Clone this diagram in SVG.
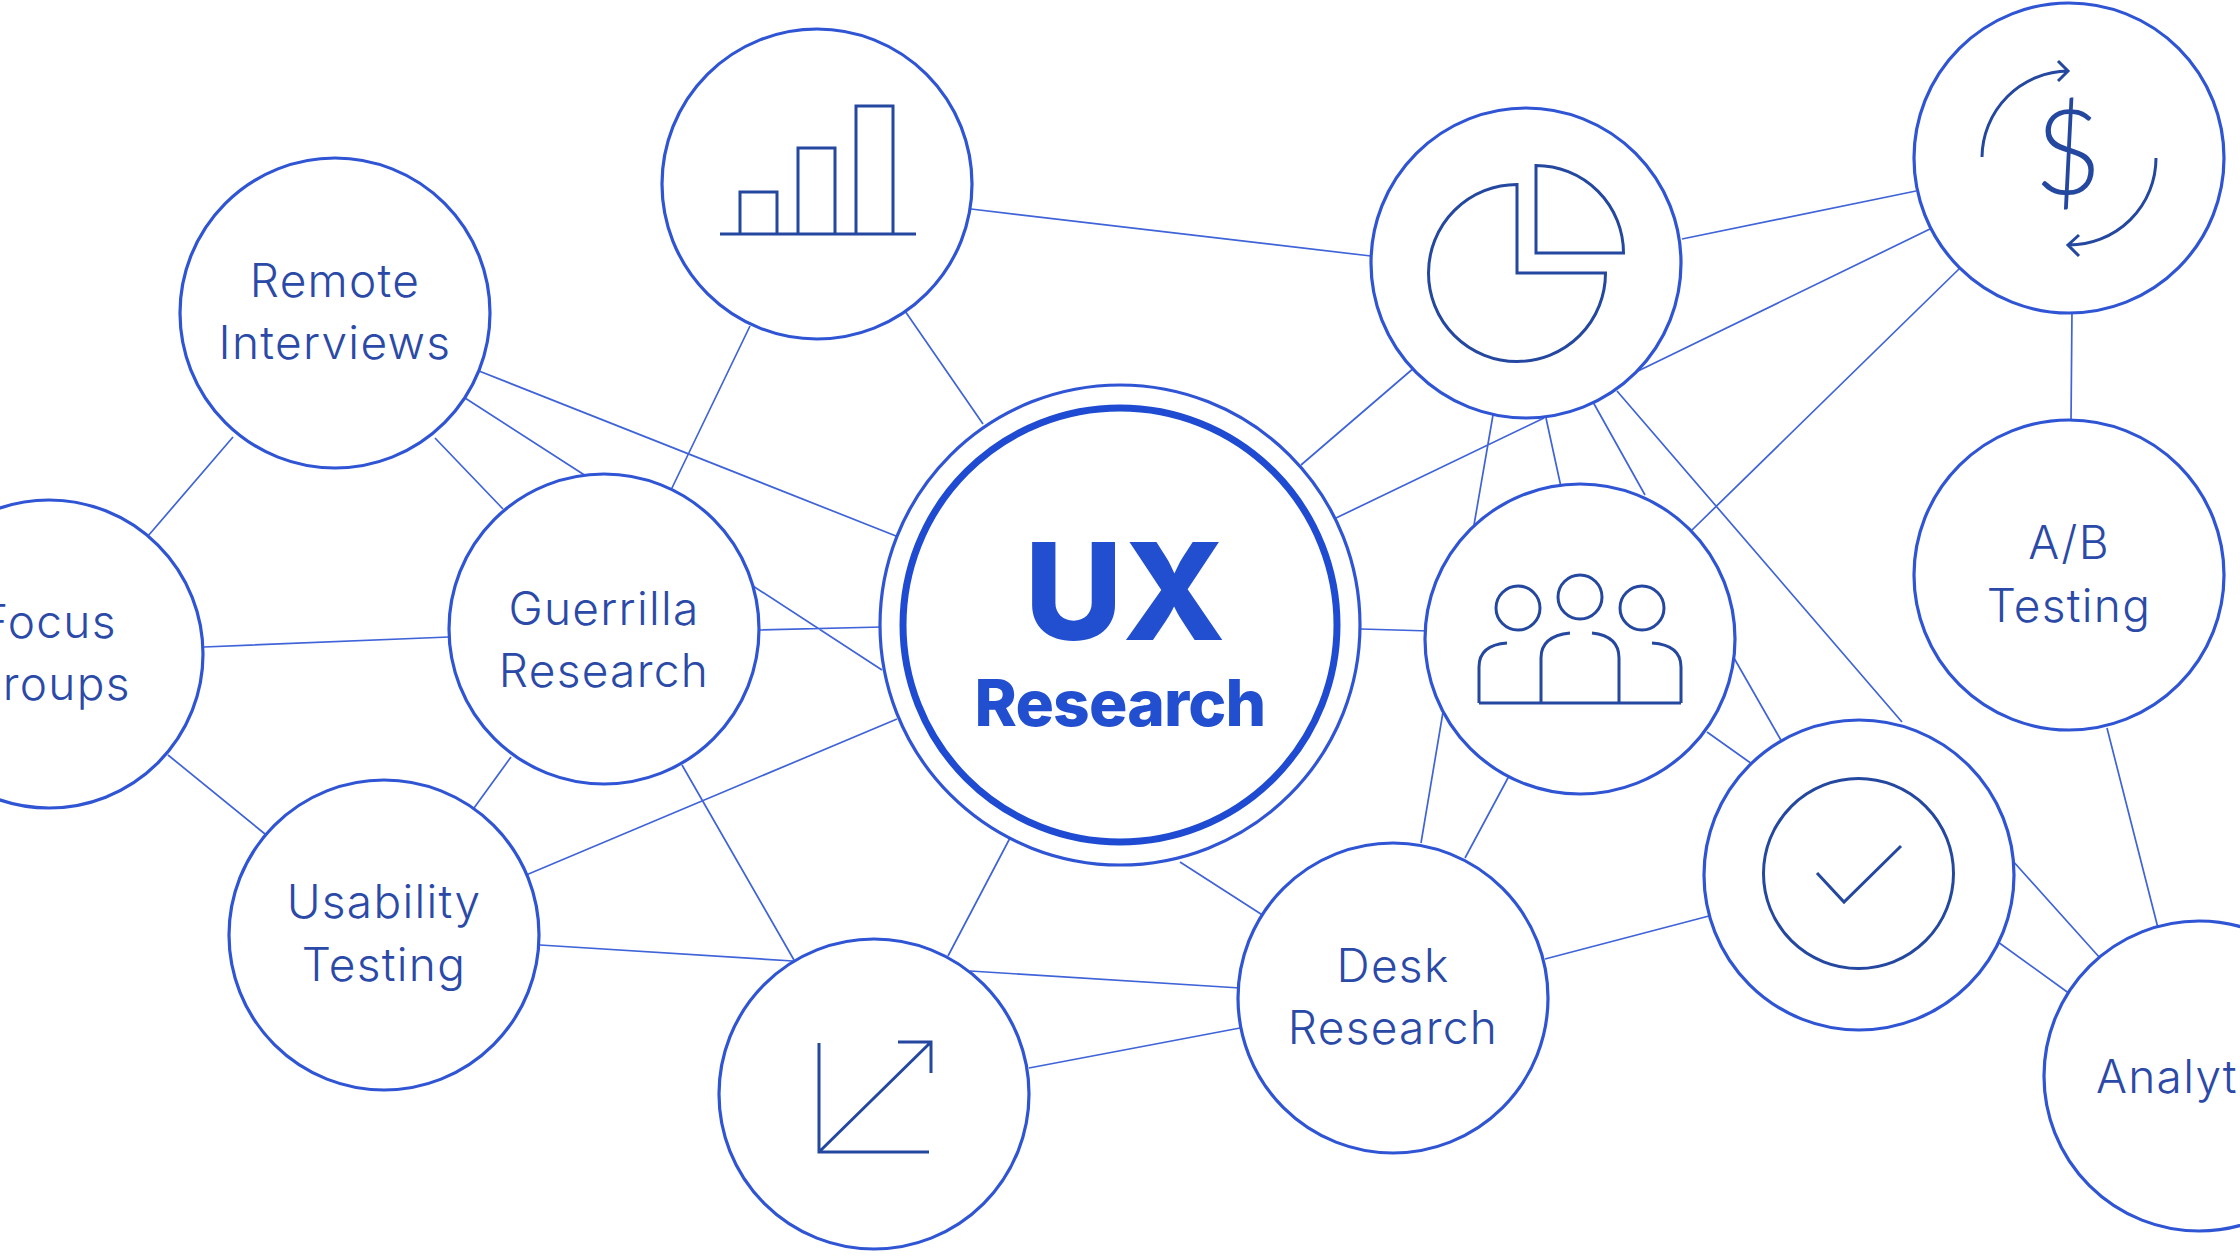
<svg xmlns="http://www.w3.org/2000/svg" width="2240" height="1260" viewBox="0 0 2240 1260">
<style>
.c{fill:#fff;stroke:#2f55d4;stroke-width:3.2}
.l{stroke:#3f63d8;stroke-width:1.7;fill:none}
.i{stroke:#24479f;stroke-width:3;fill:none}
.t{font-family:"Inter","Noto Sans",sans-serif;font-weight:300;font-size:46px;letter-spacing:1.3px;fill:#2b4aa8;text-anchor:middle}
.h{font-family:"Inter","Liberation Sans",sans-serif;font-weight:800;fill:#214fd0;text-anchor:middle}
</style>
<rect width="2240" height="1260" fill="#fff"/>
<g id="connectors" class="l">
<path d="M148 536L233 437M204 647L449 637M168 755L265 834M435 438L503 509M465 398L586 476M479 371L896 536M671 490L750 326M905 311L983 424M971 209L1371 256M1301 465L1415 367M1336 518L1544 418M1682 239L1916 191M1636 372L1932 228M1692 530L1960 268M1493 415L1474 525M1546 418L1561 487M1593 402L1645 495M1617 391L1902 722M2072 310L2071 422M2107 728L2158 928M754 630L882 627M753 586L882 670M500 886L897 719M474 808L511 757M682 765L794 960M540 945L793 961M948 956L1010 838M970 971L1240 988M1029 1068L1240 1028M1180 862L1264 916M1421 843L1443 712M1465 858L1509 776M1361 629L1430 631M1545 959L1709 916M1707 732L1752 764M1734 658L1782 742M2012 860L2100 958M1998 942L2070 994"/>
</g>
<g id="node-center"><circle cx="1120" cy="625" r="240" fill="#fff" stroke="#2f55d4" stroke-width="3.2"/><circle cx="1120" cy="625" r="217" fill="#fff" stroke="#1f4bd2" stroke-width="7"/>
<text class="h" x="1125" y="640" font-size="135">UX</text>
<text class="h" x="1120" y="726" font-size="64" letter-spacing="-0.8">Research</text></g>
<g id="node-remote"><circle class="c" cx="335" cy="313" r="155"/><text class="t" x="335" y="297">Remote</text><text class="t" x="335" y="359">Interviews</text></g>
<g id="node-focus"><circle class="c" cx="49" cy="654" r="154"/><text class="t" x="49" y="638">Focus</text><text class="t" x="49" y="700">Groups</text></g>
<g id="node-guerrilla"><circle class="c" cx="604" cy="629" r="155"/><text class="t" x="604" y="625">Guerrilla</text><text class="t" x="604" y="687">Research</text></g>
<g id="node-usability"><circle class="c" cx="384" cy="935" r="155"/><text class="t" x="384" y="918">Usability</text><text class="t" x="384" y="981">Testing</text></g>
<g id="node-chart"><circle class="c" cx="817" cy="184" r="155"/><path class="i" d="M720 234H916M740 234V192H777V234M798 234V148H835V234M856 234V106H893V234"/></g>
<g id="node-pie"><circle class="c" cx="1526" cy="263" r="155"/><path class="i" d="M1517 184.500A88.500 88.500 0 1 0 1605.500 273H1517ZM1536 165.500A87.500 87.500 0 0 1 1623.500 253H1536Z"/></g>
<g id="node-dollar"><circle class="c" cx="2069" cy="158" r="155"/><path class="i" d="M1982 157A87 87 0 0 1 2068 71M2058 61L2068 71L2058 81M2156 158A87 87 0 0 1 2068 245M2079 235L2068 245L2079 256"/><text x="2068" y="194" font-family="'Lato',sans-serif" font-size="118" font-weight="300" fill="#24479f" text-anchor="middle">$</text></g>
<g id="node-ab"><circle class="c" cx="2069" cy="575" r="155"/><text class="t" x="2069" y="559">A/B</text><text class="t" x="2069" y="622">Testing</text></g>
<g id="node-people"><circle class="c" cx="1580" cy="639" r="155"/><path class="i" d="M1479 703H1681M1479 703V667Q1479 645 1507 643M1681 703V667Q1681 645 1652 643M1541 703V658Q1541 636 1570 633M1619 703V658Q1619 636 1592 633"/><circle class="i" cx="1518" cy="608" r="22"/><circle class="i" cx="1580" cy="597" r="22"/><circle class="i" cx="1642" cy="608" r="22"/></g>
<g id="node-check"><circle class="c" cx="1859" cy="875" r="155"/><circle class="i" cx="1858.500" cy="873.500" r="95"/><path class="i" d="M1817 873L1844 902L1901 846"/></g>
<g id="node-analytics"><circle class="c" cx="2199" cy="1076" r="155"/><text class="t" x="2199" y="1093">Analytics</text></g>
<g id="node-desk"><circle class="c" cx="1393" cy="998" r="155"/><text class="t" x="1393" y="982">Desk</text><text class="t" x="1393" y="1044">Research</text></g>
<g id="node-scale"><circle class="c" cx="874" cy="1094" r="155"/><path class="i" d="M819 1043V1152H929M819 1152L931 1042M898 1042H931V1073"/></g>
</svg>
